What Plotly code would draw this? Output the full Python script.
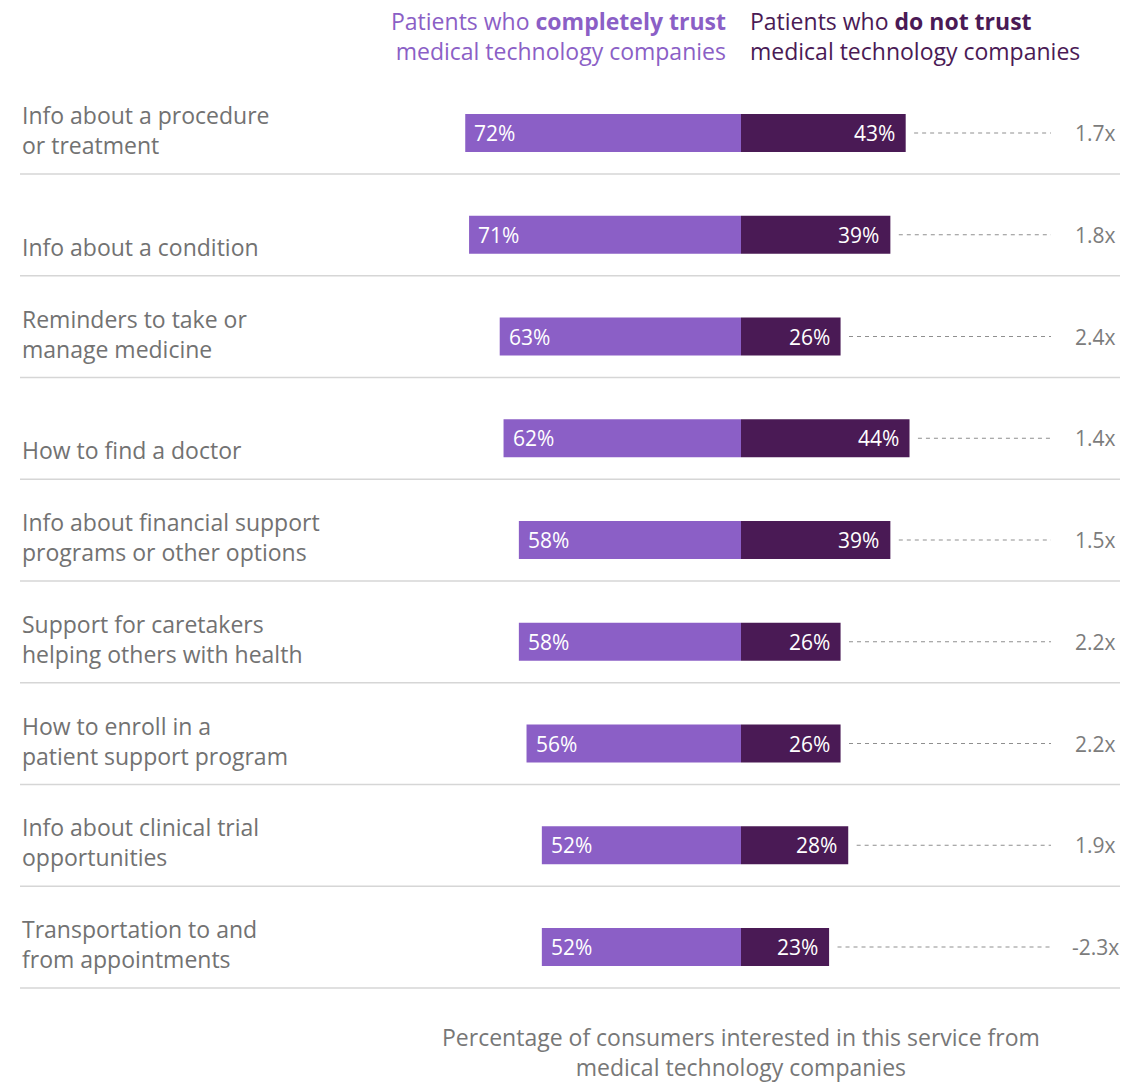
import plotly.graph_objects as go

# Services asked about, top to bottom
services = [
    "Info about a procedure<br>or treatment",
    "Info about a condition",
    "Reminders to take or<br>manage medicine",
    "How to find a doctor",
    "Info about financial support<br>programs or other options",
    "Support for caretakers<br>helping others with health",
    "How to enroll in a<br>patient support program",
    "Info about clinical trial<br>opportunities",
    "Transportation to and<br>from appointments",
]
# Share of patients interested in each service (%)
completely_trust = [72, 71, 63, 62, 58, 58, 56, 52, 52]
do_not_trust = [43, 39, 26, 44, 39, 26, 26, 28, 23]
# How many times more likely the trusting group is to be interested
ratio_labels = ["1.7x", "1.8x", "2.4x", "1.4x", "1.5x", "2.2x", "2.2x", "1.9x", "-2.3x"]

LIGHT = "#8B5FC6"
DARK = "#4A1A55"
GREY_TEXT = "#727272"
FONT = "Open Sans"

W, H = 1126, 1084
CENTER_PX = 741          # pixel position of the 0% baseline
PX_PER_PCT = 3.83
ROW0_PX = 133            # pixel centre of the first row
ROW_PX = 101.75          # row pitch in pixels

x_range = [-CENTER_PX / PX_PER_PCT, (W - CENTER_PX) / PX_PER_PCT]
y_range = [(H - ROW0_PX) / ROW_PX, -ROW0_PX / ROW_PX]

rows = list(range(len(services)))
fig = go.Figure()

fig.add_trace(go.Bar(
    y=rows, x=[-v for v in completely_trust], orientation="h",
    marker=dict(color=LIGHT, line=dict(width=0)), width=38 / ROW_PX,
    hovertext=[f"{v}%" for v in completely_trust], hoverinfo="text",
))
fig.add_trace(go.Bar(
    y=rows, x=do_not_trust, orientation="h",
    marker=dict(color=DARK, line=dict(width=0)), width=38 / ROW_PX,
    hovertext=[f"{v}%" for v in do_not_trust], hoverinfo="text",
))

dash_end = (1051 - CENTER_PX) / PX_PER_PCT
shapes = []
annotations = []
for i, (name, a, b, r) in enumerate(zip(services, completely_trust, do_not_trust, ratio_labels)):
    # value labels inside the bar tips
    annotations.append(dict(x=-a, y=i, xref="x", yref="y", text=f"{a}%",
                            xanchor="left", yanchor="middle", xshift=7, showarrow=False,
                            font=dict(family=FONT, size=21, color="white")))
    annotations.append(dict(x=b, y=i, xref="x", yref="y", text=f"{b}%",
                            xanchor="right", yanchor="middle", xshift=-9, showarrow=False,
                            font=dict(family=FONT, size=21, color="white")))
    # category label on the left
    annotations.append(dict(x=20 / W, y=i, xref="paper", yref="y", text=name,
                            xanchor="left", yanchor="bottom", yshift=-30, align="left",
                            showarrow=False,
                            font=dict(family=FONT, size=23, color=GREY_TEXT)))
    # ratio on the right
    annotations.append(dict(x=1095 / W, y=i, xref="paper", yref="y", text=r,
                            xanchor="center", yanchor="middle", showarrow=False,
                            font=dict(family=FONT, size=21, color="#7c7c7c")))
    # dotted leader from the bar to the ratio
    shapes.append(dict(type="line", xref="x", yref="y",
                       x0=b + 2.2, x1=dash_end, y0=i, y1=i,
                       line=dict(color="#8f8f8f", width=1, dash="4px,4px")))
    # row separator
    sep = i + 41 / ROW_PX
    shapes.append(dict(type="line", xref="paper", yref="y",
                       x0=20 / W, x1=1120 / W, y0=sep, y1=sep,
                       line=dict(color="#d6d6d6", width=1.5)))

# column headers
annotations.append(dict(x=728 / W, y=1 - 36.5 / H, xref="paper", yref="paper",
                        text="Patients who <b>completely trust</b><br>medical technology companies",
                        xanchor="right", yanchor="middle", align="right", showarrow=False,
                        font=dict(family=FONT, size=23, color=LIGHT)))
annotations.append(dict(x=748 / W, y=1 - 36.5 / H, xref="paper", yref="paper",
                        text="Patients who <b>do not trust</b><br>medical technology companies",
                        xanchor="left", yanchor="middle", align="left", showarrow=False,
                        font=dict(family=FONT, size=23, color=DARK)))
# axis caption
annotations.append(dict(x=741 / W, y=1 - 1052 / H, xref="paper", yref="paper",
                        text="Percentage of consumers interested in this service from<br>medical technology companies",
                        xanchor="center", yanchor="middle", align="center", showarrow=False,
                        font=dict(family=FONT, size=23, color="#777777")))

fig.update_layout(
    width=W, height=H,
    margin=dict(l=0, r=0, t=0, b=0),
    paper_bgcolor="white", plot_bgcolor="white",
    barmode="overlay", showlegend=False,
    xaxis=dict(range=x_range, visible=False, fixedrange=True),
    yaxis=dict(range=y_range, visible=False, fixedrange=True),
    shapes=shapes, annotations=annotations,
    font=dict(family=FONT),
)

fig.write_html("out.html")
